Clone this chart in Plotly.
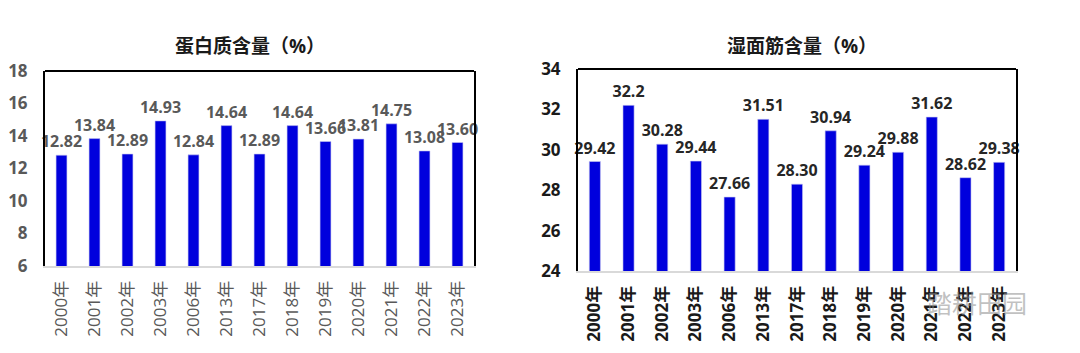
import plotly.graph_objects as go

years = ["2000年", "2001年", "2002年", "2003年", "2006年", "2013年", "2017年",
         "2018年", "2019年", "2020年", "2021年", "2022年", "2023年"]
protein = [12.82, 13.84, 12.89, 14.93, 12.84, 14.64, 12.89, 14.64, 13.66, 13.81, 14.75, 13.08, 13.60]
gluten = [29.42, 32.2, 30.28, 29.44, 27.66, 31.51, 28.30, 30.94, 29.24, 29.88, 31.62, 28.62, 29.38]
protein_text = ["12.82", "13.84", "12.89", "14.93", "12.84", "14.64", "12.89", "14.64", "13.66", "13.81", "14.75", "13.08", "13.60"]
gluten_text = ["29.42", "32.2", "30.28", "29.44", "27.66", "31.51", "28.30", "30.94", "29.24", "29.88", "31.62", "28.62", "29.38"]

FONT = "Open Sans, Noto Sans CJK SC, sans-serif"
BLUE = "#0000DD"

fig = go.Figure()
fig.add_trace(go.Bar(
    x=years, y=protein, text=protein_text, textposition="outside",
    constraintext="none", cliponaxis=False,
    textfont=dict(family=FONT, size=16, color="#595959", weight="bold"),
    marker=dict(color=BLUE, line=dict(color="#c8c8f0", width=0.6)),
    width=0.33, xaxis="x", yaxis="y", showlegend=False))
fig.add_trace(go.Bar(
    x=years, y=gluten, text=gluten_text, textposition="outside",
    constraintext="none", cliponaxis=False,
    textfont=dict(family=FONT, size=16, color="#262626", weight="bold"),
    marker=dict(color=BLUE, line=dict(color="#c8c8f0", width=0.6)),
    width=0.33, xaxis="x2", yaxis="y2", showlegend=False))

W, H = 1080, 353
def xd(a, b):
    return [a / W, b / W]
def yd(top, bottom):
    return [(H - bottom) / H, (H - top) / H]

fig.update_layout(
    width=W, height=H, margin=dict(l=0, r=0, t=0, b=0),
    paper_bgcolor="white", plot_bgcolor="white",
    font=dict(family=FONT),
    xaxis=dict(domain=xd(45, 474), anchor="y", showline=True, linecolor="#d9d9d9", linewidth=2,
               tickangle=-90, ticks="", showgrid=False, ticklabelstandoff=6, automargin=False,
               tickfont=dict(family=FONT, size=17, color="#595959")),
    yaxis=dict(domain=yd(71, 266), anchor="x", range=[6, 18], dtick=2, showgrid=False,
               showline=True, linecolor="black", linewidth=2, mirror=True, ticks="",
               ticklabelstandoff=12, automargin=False,
               tickfont=dict(family=FONT, size=17, color="#595959", weight="bold"), zeroline=False),
    xaxis2=dict(domain=xd(578, 1016), anchor="y2", showline=True, linecolor="#d9d9d9", linewidth=2,
                tickangle=-90, ticks="", showgrid=False, ticklabelstandoff=6, automargin=False,
                tickfont=dict(family=FONT, size=17, color="#1a1a1a", weight="bold")),
    yaxis2=dict(domain=yd(69, 271), anchor="x2", range=[24, 34], dtick=2, showgrid=False,
                showline=True, linecolor="black", linewidth=2, mirror=True, ticks="",
                ticklabelstandoff=12, automargin=False,
                tickfont=dict(family=FONT, size=17, color="#1a1a1a", weight="bold"), zeroline=False),
    shapes=[
        dict(type="line", xref="x domain", yref="y domain", x0=0, x1=1, y0=1, y1=1,
             line=dict(color="black", width=2)),
        dict(type="line", xref="x2 domain", yref="y2 domain", x0=0, x1=1, y0=1, y1=1,
             line=dict(color="black", width=2)),
    ],
    annotations=[
        dict(text="蛋白质含量（%）", xref="paper", yref="paper", x=250 / W, y=(H - 46) / H,
             xanchor="center", yanchor="middle",
             showarrow=False, font=dict(family=FONT, size=19, color="#1a1a1a", weight="bold")),
        dict(text="湿面筋含量（%）", xref="paper", yref="paper", x=802 / W, y=(H - 46) / H,
             xanchor="center", yanchor="middle",
             showarrow=False, font=dict(family=FONT, size=19, color="#1a1a1a", weight="bold")),
        dict(text="踏耕田园", xref="paper", yref="paper", x=977 / W, y=(H - 303) / H,
             xanchor="center", yanchor="middle",
             showarrow=False, font=dict(family=FONT, size=25, color="rgba(140,140,140,0.55)")),
    ],
)

fig.write_html("out.html")
